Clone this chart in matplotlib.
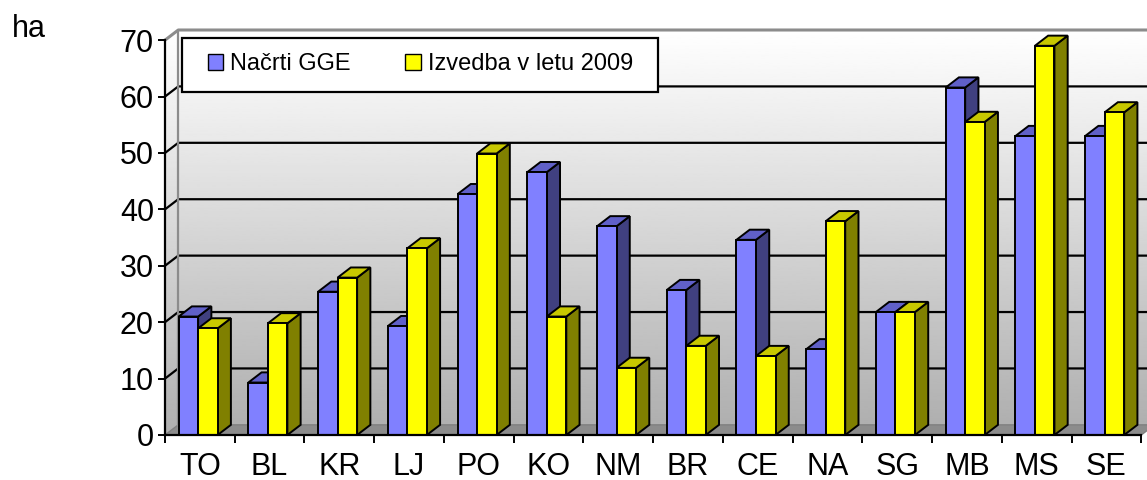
import numpy as np
import matplotlib.pyplot as plt
from matplotlib.patches import Polygon, Patch, Rectangle

plt.rcParams['font.family'] = ['Liberation Sans', 'DejaVu Sans']

categories = ['TO', 'BL', 'KR', 'LJ', 'PO', 'KO', 'NM', 'BR', 'CE', 'NA', 'SG', 'MB', 'MS', 'SE']
nacrti_gge = [21, 9.3, 25.4, 19.3, 42.7, 46.6, 37, 25.7, 34.6, 15.2, 21.8, 61.6, 53, 53]
izvedba_2009 = [18.9, 19.8, 27.9, 33.1, 49.9, 21, 11.9, 15.8, 14, 37.9, 21.8, 55.5, 69, 57.2]
yticks = [0, 10, 20, 30, 40, 50, 60, 70]

# pseudo 3D depth (data units)
ddx = 0.19
ddy = 1.8
n = len(categories)
x0, x1 = -0.5, n - 0.5
ymax = 70

fig = plt.figure(figsize=(11.47, 4.8), dpi=100)
ax = fig.add_axes([165 / 1147, 45 / 480, (1141 + 13.5 - 165) / 1147, (435 - 30) / 480])
ax.set_xlim(x0, x1 + ddx)
ax.set_ylim(0, ymax + ddy)

# back wall + left wall with gradient
grad = np.linspace(1, 0, 256).reshape(-1, 1)
ax.imshow(grad, extent=[x0 + ddx, x1 + ddx, ddy, ymax + ddy], aspect='auto',
          cmap='gray', vmin=-2.2, vmax=1.0, zorder=0, interpolation='bilinear')
wall = Polygon([(x0, 0), (x0 + ddx, ddy), (x0 + ddx, ymax + ddy), (x0, ymax)],
               closed=True, facecolor='none', edgecolor='none')
ax.add_patch(wall)
im = ax.imshow(grad, extent=[x0, x0 + ddx, 0, ymax + ddy], aspect='auto',
               cmap='gray', vmin=-2.2, vmax=1.0, zorder=0, interpolation='bilinear')
im.set_clip_path(wall)

# floor
ax.add_patch(Polygon([(x0, 0), (x1, 0), (x1 + ddx, ddy), (x0 + ddx, ddy)],
                     closed=True, facecolor='#8c8c8c', edgecolor='#808080', lw=1, zorder=1))

# gridlines
for v in yticks[1:-1]:
    ax.plot([x0, x0 + ddx, x1 + ddx], [v, v + ddy, v + ddy], color='black', lw=1.6, zorder=1)
ax.plot([x0, x0 + ddx, x1 + ddx], [ymax, ymax + ddy, ymax + ddy], color='#8c8c8c', lw=2.2, zorder=1, clip_on=False)
ax.plot([x0 + ddx, x0 + ddx], [ddy, ymax + ddy], color='#8c8c8c', lw=1.6, zorder=1)

# bars
w = 0.28
xs = np.arange(n)
series = [
    (nacrti_gge, -w / 2 - 0.025, '#8080ff', '#6060c8', '#404080'),
    (izvedba_2009, w / 2 - 0.025, '#ffff00', '#c8c800', '#808000'),
]
z = 2
for i in range(n):
    for vals, off, front, top, side in series:
        v = vals[i]
        left = xs[i] + off - w / 2
        right = left + w
        ax.add_patch(Polygon([(right, 0), (right + ddx, ddy), (right + ddx, v + ddy), (right, v)],
                             closed=True, facecolor=side, edgecolor='black', lw=1.4, zorder=z))
        ax.add_patch(Polygon([(left, v), (left + ddx, v + ddy), (right + ddx, v + ddy), (right, v)],
                             closed=True, facecolor=top, edgecolor='black', lw=1.4, zorder=z))
        ax.bar(left, v, width=w, align='edge', color=front, edgecolor='black', lw=1.4, zorder=z + 0.5)
        z += 1

# axes
for s in ['top', 'right']:
    ax.spines[s].set_visible(False)
ax.spines['left'].set_bounds(0, ymax)
ax.spines['bottom'].set_bounds(x0, x1)
ax.spines['left'].set_linewidth(1.6)
ax.spines['bottom'].set_linewidth(1.6)
ax.spines['left'].set_zorder(100)
ax.spines['bottom'].set_zorder(100)
ax.set_yticks(yticks)
ax.set_yticklabels([str(t) for t in yticks], fontsize=22)
ax.tick_params(axis='y', length=5, width=1.4, pad=3)
ax.set_xticks(xs)
ax.set_xticklabels(categories, fontsize=22)
ax.tick_params(axis='x', which='major', length=0, pad=12)
ax.set_xticks(np.arange(n + 1) - 0.5, minor=True)
ax.tick_params(axis='x', which='minor', length=6, width=1.4)

# legend
ax.add_patch(Rectangle((182 / 1147, 1 - 92 / 480), (658 - 182) / 1147, 54 / 480,
                       transform=fig.transFigure, facecolor='white', edgecolor='black', lw=1.6, zorder=200))
handles = [Patch(facecolor='#8080ff', edgecolor='black'), Patch(facecolor='#ffff00', edgecolor='black')]
leg = fig.legend(handles, ['Načrti GGE', 'Izvedba v letu 2009'], loc='center left',
                 bbox_to_anchor=(208 / 1147, 1 - 64 / 480), ncol=2, frameon=False, fontsize=17,
                 handlelength=0.65, handleheight=0.65, handletextpad=0.3, columnspacing=2.3,
                 borderpad=0, borderaxespad=0)
leg.set_zorder(300)

fig.text(12 / 1147, 1 - 37 / 480, 'ha', fontsize=22, va='baseline')

plt.savefig('out.png', dpi=100)
